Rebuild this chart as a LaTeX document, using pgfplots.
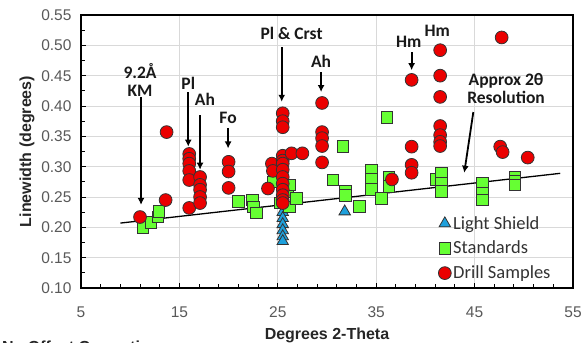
\documentclass[border=0pt]{standalone}
\usepackage{pgfplots}
\pgfplotsset{compat=1.18}
\usepackage{fontspec}
\setmainfont{Liberation Sans}
\newfontfamily\calfont{Carlito}
\usetikzlibrary{arrows.meta}

\definecolor{lsblue}{RGB}{30,160,220}
\definecolor{stdgreen}{RGB}{102,255,51}
\definecolor{drillred}{RGB}{235,0,0}
\definecolor{gridgray}{RGB}{217,217,217}
\definecolor{ticktext}{RGB}{89,89,89}

\begin{document}
\begin{tikzpicture}
\begin{axis}[
  scale only axis, width=492bp, height=273bp,
  xmin=5, xmax=55, ymin=0.10, ymax=0.55,
  xtick={5,15,25,35,45,55},
  ytick={0.10,0.15,0.20,0.25,0.30,0.35,0.40,0.45,0.50,0.55},
  minor x tick num=4, minor y tick num=1,
  tick align=inside, xtick pos=left, ytick pos=left,
  major tick length=5bp, minor tick length=4bp,
  grid=major, major grid style={gridgray, line width=1bp},
  axis line style={line width=1.6bp},
  tick style={black, line width=1bp},
  /pgf/number format/assume math mode=true,
  xticklabel style={yshift=-15bp},
  yticklabel style={xshift=-6bp, /pgf/number format/.cd, fixed, fixed zerofill, precision=2},
  ticklabel style={font=\fontsize{15.5bp}{18bp}\selectfont, text=ticktext},
  xlabel={Degrees 2-Theta}, ylabel={Linewidth (degrees)},
  xlabel style={yshift=-3.5bp},
  label style={font=\bfseries\fontsize{16bp}{19bp}\selectfont, text=black!85},
  legend cell align=left,
  legend image post style={xshift=-2bp},
  legend style={draw=none, fill=none, at={(0.72,0.278)}, anchor=north west,
    font=\calfont\fontsize{18.5bp}{20bp}\selectfont, row sep=6.5bp, text=black!80},
  clip=false,
]
\addplot[only marks, mark=triangle*, mark size=6.6bp,
  mark options={fill=lsblue, draw=black!80, line width=0.8bp}]
  coordinates {(25.5,0.225) (25.5,0.215) (25.5,0.205) (25.5,0.195)
  (25.5,0.185) (25.5,0.177) (31.8,0.226)};
\addlegendentry{Light Shield}
\addplot[only marks, mark=square*, mark size=5.8bp,
  mark options={fill=stdgreen, draw=black!80, line width=0.8bp}]
  coordinates {(11.3,0.200) (12.1,0.208) (12.8,0.217) (12.9,0.226)
  (21.0,0.243) (22.4,0.245) (22.5,0.234) (22.8,0.224)
  (24.5,0.275) (25.2,0.240) (26.0,0.259) (26.2,0.270) (26.2,0.234) (26.9,0.248)
  (30.6,0.278) (31.6,0.333) (31.9,0.259) (31.9,0.253) (33.3,0.235)
  (34.5,0.295) (34.5,0.279) (34.5,0.263) (35.5,0.248) (36.1,0.381)
  (36.3,0.283) (36.3,0.267)
  (41.1,0.279) (41.6,0.289) (41.6,0.273) (41.6,0.259)
  (45.8,0.273) (45.8,0.256) (45.8,0.245)
  (49.1,0.283) (49.1,0.276) (49.1,0.270)};
\addlegendentry{Standards}
\addplot[black, line width=1.3bp, forget plot] coordinates {(9,0.207) (53.7,0.289)};
\addplot[only marks, mark=*, mark size=6.4bp,
  mark options={fill=drillred, draw=black!80, line width=0.8bp}]
  coordinates {(11.0,0.217) (13.6,0.245) (13.7,0.357)
  (16.0,0.321) (16.0,0.313) (16.0,0.305) (16.0,0.293) (16.0,0.278) (16.0,0.232)
  (17.1,0.283) (17.1,0.270) (17.1,0.262) (17.1,0.250) (17.1,0.240)
  (20.0,0.308) (20.0,0.292) (20.0,0.265)
  (24.0,0.264) (24.4,0.305) (24.5,0.293)
  (25.5,0.388) (25.5,0.375) (25.5,0.365) (25.5,0.318) (25.5,0.310) (25.5,0.305)
  (25.5,0.295) (25.5,0.283) (25.5,0.272) (25.5,0.262) (25.5,0.253) (25.5,0.245) (25.5,0.240)
  (26.4,0.322) (27.5,0.322)
  (29.5,0.405) (29.5,0.357) (29.5,0.347) (29.5,0.334) (29.5,0.307)
  (36.6,0.279)
  (38.6,0.443) (38.6,0.333) (38.6,0.303) (38.6,0.290)
  (41.5,0.492) (41.5,0.450) (41.5,0.415) (41.5,0.367) (41.5,0.352) (41.5,0.341) (41.5,0.334)
  (47.75,0.513) (47.6,0.333) (47.85,0.324) (50.4,0.315)};
\addlegendentry{Drill Samples}

\tikzset{ann/.style={font=\calfont\bfseries\fontsize{17.5bp}{18bp}\selectfont, align=center, inner sep=0pt, text=black!90},
  arr/.style={-{Latex[length=7bp,width=7bp]}, line width=1.8bp, black}}
\node[ann] at (axis cs:11.0,0.443) {9.2Å\\KM};
\draw[arr] (axis cs:11.1,0.415) -- (axis cs:11.1,0.237);
\node[ann] at (axis cs:15.9,0.438) {Pl};
\draw[arr] (axis cs:15.9,0.423) -- (axis cs:15.9,0.333);
\node[ann] at (axis cs:17.6,0.411) {Ah};
\draw[arr] (axis cs:17.1,0.385) -- (axis cs:17.1,0.295);
\node[ann] at (axis cs:19.95,0.380) {Fo};
\draw[arr] (axis cs:19.95,0.364) -- (axis cs:19.95,0.330);
\node[ann] at (axis cs:26.4,0.520) {Pl \& Crst};
\draw[arr] (axis cs:25.4,0.497) -- (axis cs:25.4,0.407);
\node[ann] at (axis cs:29.4,0.473) {Ah};
\draw[arr] (axis cs:29.4,0.456) -- (axis cs:29.4,0.423);
\node[ann] at (axis cs:38.3,0.505) {Hm};
\draw[arr] (axis cs:38.6,0.489) -- (axis cs:38.6,0.459);
\node[ann] at (axis cs:41.2,0.524) {Hm};
\node[ann] at (axis cs:48.2,0.429) {Approx 2θ\\Resolution};
\draw[arr] (axis cs:44.87,0.390) -- (axis cs:43.95,0.290);
\end{axis}
\node[anchor=north west, inner sep=0pt, font=\bfseries\fontsize{16bp}{19bp}\selectfont, text=black!85] at (-79bp,-53bp) {No Offset Correction};
\pgfresetboundingbox
\useasboundingbox (-81bp,-55bp) rectangle (503bp,288bp);
\end{tikzpicture}
\end{document}
